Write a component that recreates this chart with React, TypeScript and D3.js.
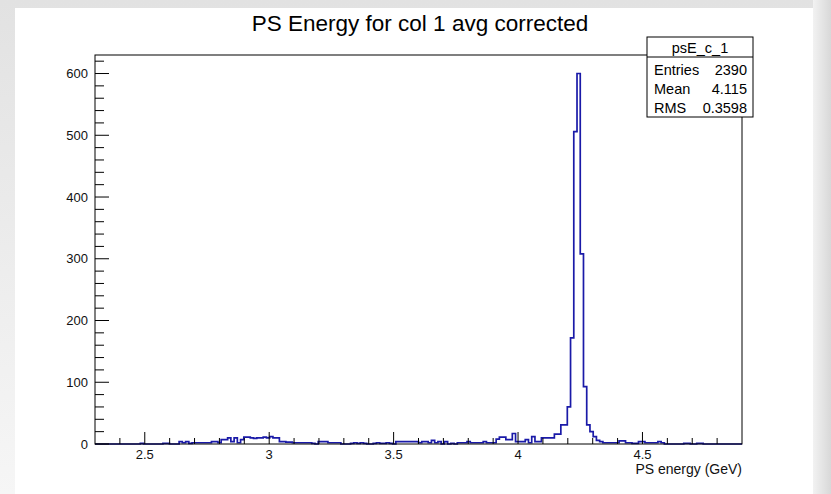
import React from "react";
import * as d3 from "d3";

const TITLE = "PS Energy for col 1 avg corrected";
const X_LABEL = "PS energy (GeV)";
const X_MIN = 2.3;
const X_MAX = 4.9;
const Y_MAX = 630;
const N_BINS = 200;
const X_TICKS = [2.5, 3, 3.5, 4, 4.5];
const Y_TICKS = [0, 100, 200, 300, 400, 500, 600];
const STATS_NAME = "psE_c_1";
const STATS_LABELS = ["Entries", "Mean", "RMS"];
const STATS_VALUES = ["2390", "4.115", "0.3598"];

// bin contents (200 bins from 2.3 to 4.9 GeV)
const COUNTS = [
  0, 0, 0, 0, 0, 0, 0, 0, 0, 0,
  0, 0, 0, 0, 1, 0, 0, 0, 0, 0,
  0, 1, 1, 0, 0, 0, 4, 2, 4, 1,
  2, 2, 2, 2, 2, 2, 4, 4, 2, 7,
  7, 10, 4, 10, 2, 7, 11, 11, 10, 9,
  10, 10, 11, 10, 12, 10, 10, 4, 4, 3,
  3, 2, 2, 2, 2, 2, 2, 1, 0, 4,
  4, 4, 2, 2, 2, 2, 0, 0, 0, 1,
  2, 1, 2, 1, 0, 0, 1, 2, 1, 1,
  2, 1, 0, 4, 4, 4, 4, 4, 4, 4,
  2, 4, 4, 2, 6, 2, 4, 0, 4, 0,
  1, 0, 2, 2, 2, 4, 2, 2, 2, 2,
  4, 2, 2, 2, 8, 11, 11, 7, 7, 17,
  4, 4, 4, 7, 2, 12, 4, 4, 10, 10,
  10, 10, 16, 16, 31, 31, 60, 172, 506, 600,
  308, 93, 31, 20, 12, 6, 4, 2, 2, 2,
  2, 2, 5, 5, 2, 2, 1, 1, 4, 4,
  2, 2, 2, 2, 4, 2, 0, 0, 0, 0,
  0, 0, 1, 1, 0, 0, 1, 1, 0, 0,
  0, 0, 0, 0, 0, 0, 0, 0, 0, 0,
];

const W = 831;
const H = 494;
const FL = 95, FR = 742, FT = 55, FB = 444;
const FONT = "'Liberation Sans', Arial, Helvetica, sans-serif";

export default function App() {
  const x = d3.scaleLinear().domain([X_MIN, X_MAX]).range([FL, FR]);
  const y = d3.scaleLinear().domain([0, Y_MAX]).range([FB, FT]);
  const bw = (X_MAX - X_MIN) / N_BINS;

  const pts: [number, number][] = [[X_MIN, 0]];
  COUNTS.forEach((c, i) => pts.push([X_MIN + i * bw, c]));
  pts.push([X_MAX, COUNTS[COUNTS.length - 1]]);
  pts.push([X_MAX, 0]);
  const line = d3
    .line<[number, number]>()
    .x((d) => x(d[0]))
    .y((d) => y(d[1]))
    .curve(d3.curveStepAfter);
  const path = line(pts) || "";

  const xMinor = d3.range(24, 49).map((v) => v / 10).filter((v) => !X_TICKS.some((t) => Math.abs(t - v) < 1e-6));
  const yMinor = d3.range(0, Y_MAX + 1, 20).filter((v) => v % 100 !== 0);

  return (
    <svg
      width={W}
      height={H}
      style={{ position: "absolute", left: 0, top: 0, display: "block" }}
      fontFamily={FONT}
    >
      <defs>
        <linearGradient id="bgL" x1="0" y1="0" x2="0" y2="1">
          <stop offset="0" stopColor="#e2e2e2" />
          <stop offset="1" stopColor="#f6f6f6" />
        </linearGradient>
        <linearGradient id="bgR" x1="0" y1="0" x2="1" y2="0">
          <stop offset="0" stopColor="#f2f2f2" />
          <stop offset="1" stopColor="#d8d8d8" />
        </linearGradient>
      </defs>
      <rect x={0} y={0} width={W} height={H} fill="url(#bgL)" />
      <rect x={813} y={0} width={W - 813} height={H} fill="url(#bgR)" />
      <rect x={15} y={8} width={798} height={H - 8} fill="#ffffff" />

      <text x={420} y={31} textAnchor="middle" fontSize={22.5} fill="#000">
        {TITLE}
      </text>

      <path d={path} fill="none" stroke="#1a1aa8" strokeWidth={1.7} />

      <rect x={FL} y={FT} width={FR - FL} height={FB - FT} fill="none" stroke="#000" strokeWidth={1} />

      {Y_TICKS.map((t) => (
        <g key={"y" + t}>
          <line x1={FL} x2={FL + 14} y1={y(t)} y2={y(t)} stroke="#000" />
          <text x={88} y={y(t) + 4.5} textAnchor="end" fontSize={13} fill="#111">
            {t}
          </text>
        </g>
      ))}
      {yMinor.map((t) => (
        <line key={"ym" + t} x1={FL} x2={FL + 9} y1={y(t)} y2={y(t)} stroke="#000" />
      ))}

      {X_TICKS.map((t) => (
        <g key={"x" + t}>
          <line x1={x(t)} x2={x(t)} y1={FB} y2={FB - 12} stroke="#000" />
          <text x={x(t)} y={FB + 14.5} textAnchor="middle" fontSize={13} fill="#111">
            {t}
          </text>
        </g>
      ))}
      {xMinor.map((t) => (
        <line key={"xm" + t} x1={x(t)} x2={x(t)} y1={FB} y2={FB - 6} stroke="#000" />
      ))}

      <text x={FR} y={FB + 29.5} textAnchor="end" fontSize={14} fill="#111">
        {X_LABEL}
      </text>

      <g>
        <rect x={647} y={37} width={106} height={80} fill="#fff" stroke="#000" strokeWidth={1} />
        <line x1={647} x2={753} y1={57} y2={57} stroke="#000" />
        <text x={700} y={52.5} textAnchor="middle" fontSize={14.5} fill="#000">
          {STATS_NAME}
        </text>
        {STATS_LABELS.map((l, i) => (
          <g key={l}>
            <text x={654} y={74.5 + i * 19} fontSize={14.5} fill="#000">
              {l}
            </text>
            <text x={747} y={74.5 + i * 19} textAnchor="end" fontSize={14.5} fill="#000">
              {STATS_VALUES[i]}
            </text>
          </g>
        ))}
      </g>
    </svg>
  );
}
